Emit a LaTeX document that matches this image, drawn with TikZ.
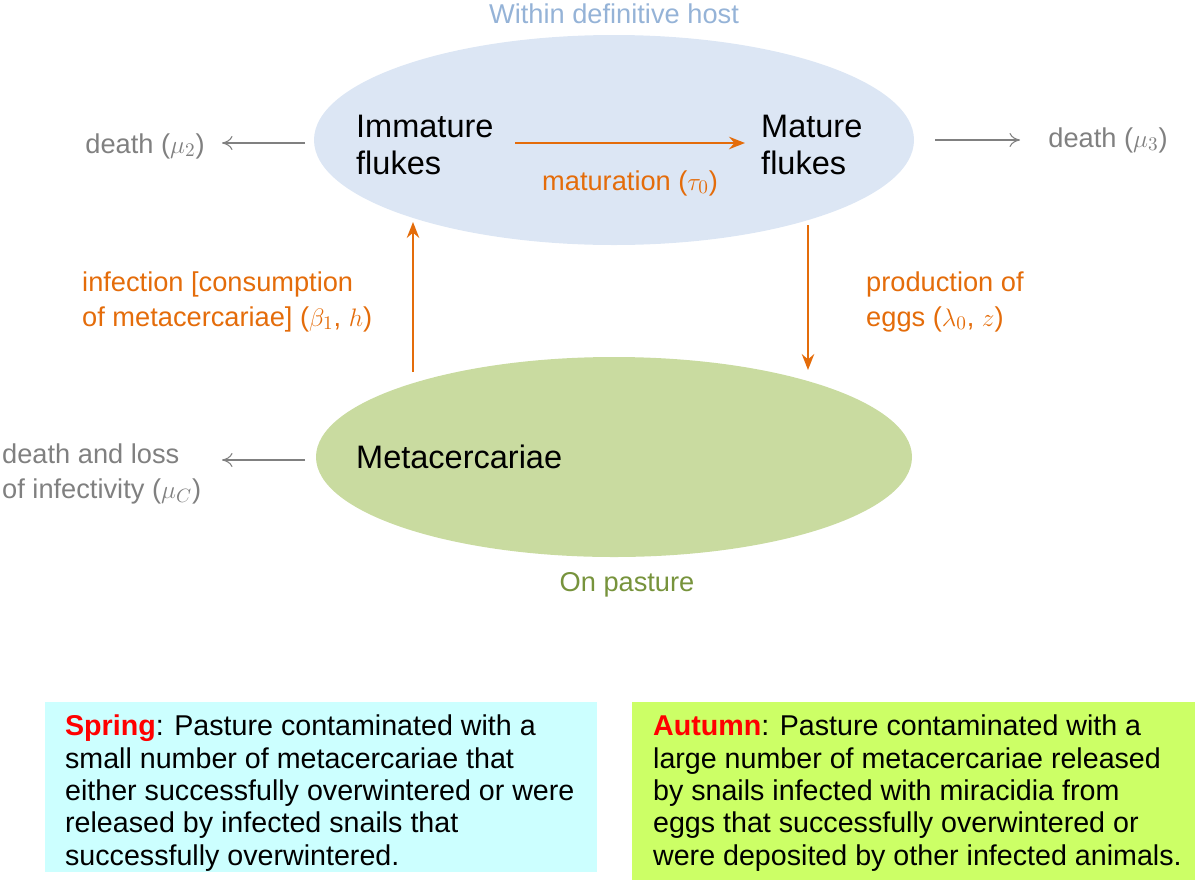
\documentclass[tikz,border=0pt]{standalone}
\usepackage{fontspec}
\setmainfont{Liberation Sans}
\usetikzlibrary{arrows.meta}
\definecolor{hostblue}{HTML}{DCE6F4}
\definecolor{titleblue}{HTML}{95B3D7}
\definecolor{pasture}{HTML}{C9DBA0}
\definecolor{pastext}{HTML}{77933C}
\definecolor{orng}{HTML}{E46C0A}
\definecolor{gry}{HTML}{808080}
\definecolor{cyanbox}{HTML}{CCFFFF}
\definecolor{limebox}{HTML}{CCFF66}
\begin{document}
\begin{tikzpicture}[x=0.02cm,y=-0.02cm,
  main/.style={font=\fontsize{18.5}{21}\selectfont,align=left,anchor=west},
  lab/.style={font=\fontsize{15.5}{19.5}\selectfont,align=left},
  orarrow/.style={draw=orng,line width=1.5pt,-{Stealth[length=9pt,width=7pt]}},
  grarrow/.style={draw=gry,line width=0.6pt,-{To[length=6pt,width=8pt]}},
  box/.style={font=\fontsize{16.3}{18.4}\selectfont,align=left,anchor=north west,inner sep=5pt}]
\useasboundingbox (0,0) rectangle (1200,893);
\fill[hostblue] (614,140) ellipse [x radius=300, y radius=105];
\fill[pasture] (614,457) ellipse [x radius=298, y radius=100];
\node[text=titleblue,font=\fontsize{15.5}{18}\selectfont] (t1) at (614,14) {Within definitive host};
\node[text=pastext,font=\fontsize{15.5}{18}\selectfont] (t2) at (627,585) {On pasture};
\node[main] (imm) at (350,145) {Immature\\flukes};
\node[main] (mat) at (755,145) {Mature\\flukes};
\node[main] (met) at (350,457) {Metacercariae};
\coordinate (a1) at (515,143); \coordinate (a2) at (745,143);
\draw[orarrow] (a1) -- (a2);
\node[lab,text=orng] (mlab) at (630,183) {maturation ($\tau_0$)};
\node[lab,text=gry] (d2) at (145,146) {death ($\mu_2$)};
\node[lab,text=gry] (d3) at (1108,140) {death ($\mu_3$)};
\node[lab,text=gry,anchor=west] (dc) at (-4,474) {death and loss\\of infectivity ($\mu_C$)};
\coordinate (g1) at (305,143); \coordinate (g2) at (222,143);
\draw[grarrow] (g1) -- (g2);
\coordinate (g3) at (935,140); \coordinate (g4) at (1020,140);
\draw[grarrow] (g3) -- (g4);
\coordinate (g5) at (305,460); \coordinate (g6) at (222,460);
\draw[grarrow] (g5) -- (g6);
\coordinate (u1) at (413,372); \coordinate (u2) at (413,222);
\draw[orarrow] (u1) -- (u2);
\coordinate (v1) at (808,225); \coordinate (v2) at (808,370);
\draw[orarrow] (v1) -- (v2);
\node[lab,text=orng,anchor=west] (inf) at (76,302) {infection [consumption\\of metacercariae] ($\beta_1$, $h$)};
\node[lab,text=orng,anchor=west] (prod) at (860,302) {production of\\eggs ($\lambda_0$, $z$)};
\fill[cyanbox] (45,702) rectangle (597,872);
\fill[limebox] (632,702) rectangle (1195,880);
\node[box] (spring) at (56,706) {\textcolor{red}{\textbf{Spring}}: Pasture contaminated with a\\small number of metacercariae that\\either successfully overwintered or were\\released by infected snails that\\successfully overwintered.};
\node[box] (autumn) at (644,706) {\textcolor{red}{\textbf{Autumn}}: Pasture contaminated with a\\large number of metacercariae released\\by snails infected with miracidia from\\eggs that successfully overwintered or\\were deposited by other infected animals.};
\end{tikzpicture}
\end{document}
